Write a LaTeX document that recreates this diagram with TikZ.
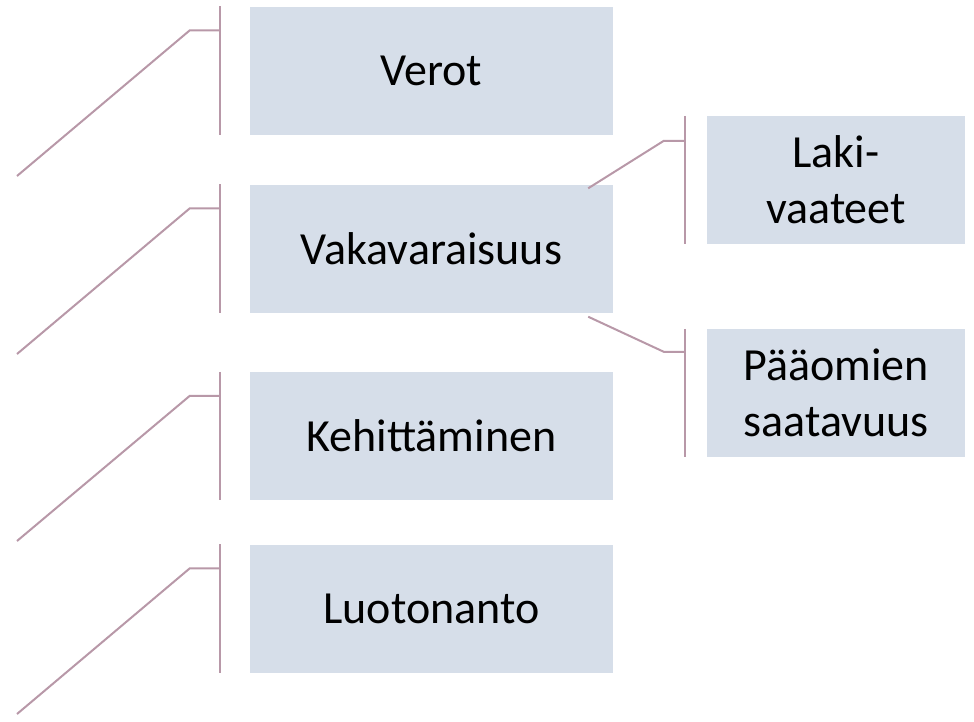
\documentclass[tikz,border=0pt]{standalone}
\usepackage{fontspec}
\setmainfont{Carlito}
\usepackage{tikz}

\definecolor{boxfill}{HTML}{D6DEE9}
\definecolor{linkcol}{HTML}{B898A8}

\tikzset{
  topic/.style={fill=boxfill,minimum width=363pt,minimum height=128pt,
    font=\fontsize{46}{56}\selectfont,align=center,inner sep=0pt},
  subtopic/.style={topic,minimum width=258pt},
  link/.style={draw=linkcol,line width=2pt}
}

\begin{document}
\begin{tikzpicture}[x=1pt,y=-1pt]
\useasboundingbox (0,0) rectangle (974,721);

\node[topic](verot) at (431.5,70.5){Verot};
\node[topic](vaka) at (431.5,248.5){Vakavaraisuus};
\node[topic](kehit) at (431.5,436){Kehittäminen};
\node[topic](luoto) at (431.5,608.5){Luotonanto};

\node[subtopic](laki) at (836,180){Laki-\\vaateet};
\node[subtopic](paaoma) at (836,393){Pääomien\\saatavuus};

% loose ends on the left
\coordinate (verotend) at (17,176);
\coordinate (vakaend) at (17,354);
\coordinate (kehitend) at (17,541);
\coordinate (luotoend) at (17,714);

% brackets in front of the main boxes
\foreach \b in {verot,vaka,kehit,luoto}{
  \draw[link] ([xshift=-30pt]\b.north west) -- ([xshift=-30pt]\b.south west);
  \draw[link] ([xshift=-30pt,yshift=-24pt]\b.north west) -- ++(-30,0) -- (\b end);
}

% brackets in front of the sub boxes
\draw[link] ([xshift=-22pt]laki.north west) -- ([xshift=-22pt]laki.south west);
\draw[link] ([xshift=-22pt]paaoma.north west) -- ([xshift=-22pt]paaoma.south west);
\draw[link] ([xshift=-25pt,yshift=-4pt]vaka.north east) -- ([xshift=-43pt,yshift=-25pt]laki.north west)
  -- ([xshift=-22pt,yshift=-25pt]laki.north west);
\draw[link] ([xshift=-25pt,yshift=-4pt]vaka.south east) -- ([xshift=-43pt,yshift=-23pt]paaoma.north west)
  -- ([xshift=-22pt,yshift=-23pt]paaoma.north west);
\end{tikzpicture}
\end{document}
